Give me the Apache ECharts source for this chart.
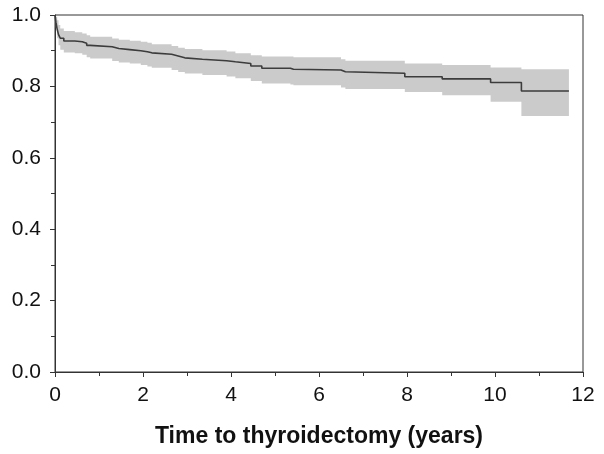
<!DOCTYPE html>
<html>
<head>
<meta charset="utf-8">
<script src="https://cdn.jsdelivr.net/npm/echarts@6/dist/echarts.min.js"></script>
<style>html,body{margin:0;padding:0;background:#fff}#c{width:604px;height:454px}</style>
</head>
<body>
<div id="c"></div>
<script>
const times = [0, 0.02, 0.05, 0.08, 0.12, 0.2, 0.45, 0.62, 0.72, 0.8, 1.3, 1.45, 1.7, 1.95, 2.1, 2.2, 2.65, 2.8, 2.95, 3.35, 3.9, 4.1, 4.45, 4.7, 5.35, 5.42, 6.5, 6.6, 7.95, 8.8, 9.9, 10.6, 11.68];
const survival = [1.0, 0.98, 0.96, 0.945, 0.935, 0.927, 0.925, 0.921, 0.915, 0.911, 0.906, 0.903, 0.900, 0.897, 0.894, 0.890, 0.885, 0.880, 0.876, 0.872, 0.869, 0.864, 0.857, 0.851, 0.848, 0.846, 0.841, 0.837, 0.827, 0.821, 0.811, 0.787, 0.787];
const upperCI = [1.0, 0.995, 0.985, 0.972, 0.962, 0.955, 0.952, 0.948, 0.943, 0.939, 0.934, 0.931, 0.928, 0.925, 0.922, 0.918, 0.913, 0.908, 0.905, 0.901, 0.898, 0.893, 0.887, 0.884, 0.884, 0.882, 0.876, 0.872, 0.864, 0.860, 0.853, 0.848, 0.848];
const lowerCI = [1.0, 0.965, 0.935, 0.915, 0.903, 0.895, 0.893, 0.889, 0.882, 0.878, 0.871, 0.867, 0.864, 0.860, 0.856, 0.852, 0.846, 0.840, 0.836, 0.832, 0.828, 0.823, 0.815, 0.808, 0.805, 0.803, 0.797, 0.793, 0.784, 0.775, 0.757, 0.717, 0.717];
const xTicks = [0, 2, 4, 6, 8, 10, 12];
const yTicks = [0.0, 0.2, 0.4, 0.6, 0.8, 1.0];
const xTitle = 'Time to thyroidectomy (years)';

const chart = echarts.init(document.getElementById('c'), null, {renderer: 'canvas'});
const font = 'Liberation Sans, Arial, sans-serif';
const axisColor = '#333';

function bandItem(params, api) {
  const pts = [];
  const n = times.length;
  for (let i = 0; i < n; i++) {
    const tNext = i < n - 1 ? times[i + 1] : times[i];
    pts.push(api.coord([times[i], upperCI[i]]));
    pts.push(api.coord([tNext, upperCI[i]]));
  }
  for (let i = n - 1; i >= 0; i--) {
    const tNext = i < n - 1 ? times[i + 1] : times[i];
    pts.push(api.coord([tNext, lowerCI[i]]));
    pts.push(api.coord([times[i], lowerCI[i]]));
  }
  return {type: 'polygon', shape: {points: pts}, style: {fill: '#cbcbcb', stroke: null}, silent: true};
}

chart.setOption({
  animation: false,
  backgroundColor: '#fff',
  grid: {left: 55, right: 21, top: 15, bottom: 82, show: true, borderColor: axisColor, borderWidth: 1, backgroundColor: 'transparent'},
  xAxis: {
    type: 'value', min: xTicks[0], max: xTicks[xTicks.length - 1], interval: 2,
    axisLine: {show: true, lineStyle: {color: axisColor, width: 1}},
    axisTick: {show: true, length: 5, lineStyle: {color: axisColor}},
    minorTick: {show: true, splitNumber: 2, length: 4, lineStyle: {color: axisColor}},
    splitLine: {show: false},
    axisLabel: {color: '#111', fontSize: 21, fontFamily: font, margin: 13},
    name: xTitle, nameLocation: 'middle', nameGap: 53,
    nameTextStyle: {color: '#111', fontSize: 23, fontWeight: 'bold', fontFamily: font}
  },
  yAxis: {
    type: 'value', min: yTicks[0], max: yTicks[yTicks.length - 1], interval: 0.2,
    axisLine: {show: true, lineStyle: {color: axisColor, width: 1}},
    axisTick: {show: true, length: 5, lineStyle: {color: axisColor}},
    minorTick: {show: true, splitNumber: 2, length: 4, lineStyle: {color: axisColor}},
    splitLine: {show: false},
    axisLabel: {color: '#111', fontSize: 21, fontFamily: font, margin: 14, formatter: v => v.toFixed(1)}
  },
  series: [
    {
      type: 'custom', silent: true, clip: true,
      data: [[0, 0]],
      renderItem: bandItem
    },
    {
      type: 'line', step: 'end', symbol: 'none', silent: true,
      lineStyle: {color: '#3c3c3c', width: 1.6},
      data: times.map((t, i) => [t, survival[i]])
    }
  ]
});
</script>
</body>
</html>
